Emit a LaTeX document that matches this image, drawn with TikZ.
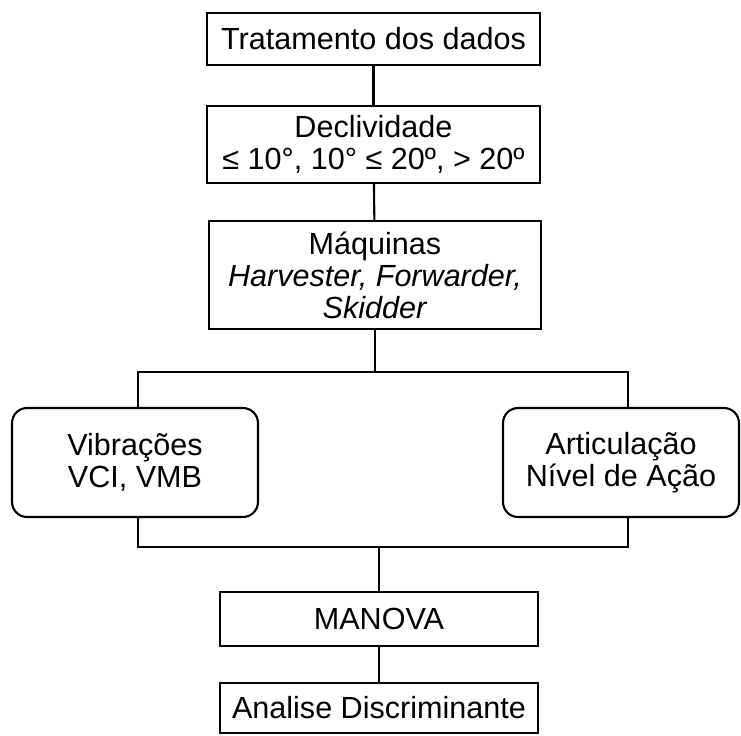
\documentclass[tikz,border=0pt]{standalone}
\usepackage{fontspec}
\setmainfont{Liberation Sans}
\begin{document}
\begin{tikzpicture}[x=0.02cm, y=-0.02cm, line width=1.2pt,
                    etapa/.style={draw, rectangle, align=center, inner sep=2pt,
                                  font=\fontsize{17.4}{18.2}\selectfont},
                    ramo/.style={etapa, rounded corners=0.3cm}]

    \useasboundingbox (0,0) rectangle (741,735);

    \node[etapa, minimum width=6.66cm, minimum height=1.04cm] (trat) at (373.5,39) {Tratamento dos dados};
    \node[etapa, minimum width=6.66cm, minimum height=1.54cm] (decl) at (373.5,144.5)
        {Declividade\\ ≤ 10°, 10° ≤ 20º, > 20º};
    \node[etapa, minimum width=6.64cm, minimum height=2.16cm] (maq) at (375,275)
        {Máquinas\\ \textit{Harvester, Forwarder,}\\ \textit{Skidder}};

    \node[ramo, minimum width=4.92cm, minimum height=2.18cm] (vib) at (135,462.5) {Vibrações\\ VCI, VMB};
    \node[ramo, minimum width=4.72cm, minimum height=2.18cm] (art) at (621,462.5) {Articulação\\ Nível de Ação};

    \node[etapa, minimum width=6.36cm, minimum height=1.08cm] (manova) at (379,619) {MANOVA};
    \node[etapa, minimum width=6.36cm, minimum height=1.0cm] (disc) at (379,708) {Analise Discriminante};

    \coordinate (busTop) at (0,372);
    \coordinate (busBot) at (0,547);
    \coordinate (vibTop) at ([xshift=0.06cm]vib.north);
    \coordinate (vibBot) at ([xshift=0.06cm]vib.south);
    \coordinate (artTop) at ([xshift=0.14cm]art.north);
    \coordinate (artBot) at ([xshift=0.14cm]art.south);

    \draw (trat) -- (decl);
    \draw (decl) -- (maq);
    \draw (maq.south) -- (maq.south |- busTop);
    \draw (vibTop) |- (artTop |- busTop) -- (artTop);
    \draw (vibBot) |- (artBot |- busBot) -- (artBot);
    \draw (manova.north |- busBot) -- (manova.north);
    \draw (manova) -- (disc);
\end{tikzpicture}
\end{document}
